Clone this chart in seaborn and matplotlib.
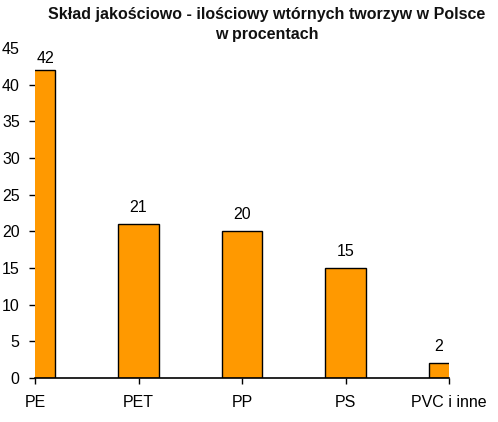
import matplotlib
matplotlib.use("Agg")
import matplotlib.pyplot as plt
import seaborn as sns
import pandas as pd

categories = ["PE", "PET", "PP", "PS", "PVC i inne"]
values = [42, 21, 20, 15, 2]
yticks = [0, 5, 10, 15, 20, 25, 30, 35, 40, 45]
title = "Skład jakościowo - ilościowy wtórnych tworzyw w Polsce\nw procentach"

sns.set_theme(style="white")
plt.rcParams["font.family"] = ["Liberation Sans", "DejaVu Sans"]

df = pd.DataFrame({"cat": categories, "val": values})

fig = plt.figure(figsize=(4.98, 4.22), dpi=100)
ax = fig.add_axes([35 / 498, 1 - 378 / 422, 414 / 498, 330 / 422])

bw = 0.39
sns.barplot(data=df, x="cat", y="val", color="#FF9900", saturation=1,
            edgecolor="black", linewidth=1, width=bw, ax=ax)

ax.set_xlim(0, len(categories) - 1)
ax.set_ylim(0, 45)
ax.set_yticks(yticks)
ax.set_xlabel("")
ax.set_ylabel("")
for s in ["top", "right", "left"]:
    ax.spines[s].set_visible(False)
ax.spines["bottom"].set_color("black")
ax.spines["bottom"].set_linewidth(1.2)
ax.tick_params(axis="both", which="both", direction="out", length=4,
               width=1, color="black", labelsize=11.5, labelcolor="black",
               bottom=True, left=True)
ax.tick_params(axis="x", pad=8)
ax.tick_params(axis="y", pad=7)
ax.yaxis.get_major_ticks()[-1].tick1line.set_visible(False)

n = len(categories)
for i, v in enumerate(values):
    if i == 0:
        xp, off = i + bw / 4, 3
    elif i == n - 1:
        xp, off = i - bw / 4, 6.5
    else:
        xp, off = i, 6.5
    ax.annotate(str(v), (xp, v), xytext=(0, off), textcoords="offset points",
                ha="center", va="bottom", fontsize=11.5, color="black",
                annotation_clip=False)

fig.text(267 / 498, 1 - 7 / 422, title, ha="center", va="top",
         fontsize=11.5, fontweight="bold", color="#111111", linespacing=1.45)

fig.savefig("out.png", dpi=100, facecolor="white")
